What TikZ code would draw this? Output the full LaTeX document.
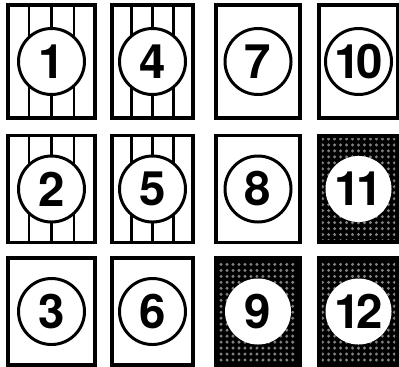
\documentclass[tikz,border=0pt]{standalone}
\usepackage{fontspec}
\setmainfont{TeX Gyre Heros}
\usetikzlibrary{calc, patterns.meta}

\begin{document}
\begin{tikzpicture}[
	box/.style={draw, line width=1.8pt, inner sep=0pt, fill=white},
	dark/.style={box, fill=black},
	ring/.style={circle, draw, line width=1.7pt, fill=white, minimum size=1.32cm, inner sep=0pt,
		font=\fontsize{27}{27}\selectfont\bfseries},
	hole/.style={ring, draw=none},
	stripe/.style={line width=1.5pt},
	dots/.style={pattern={Dots[distance=3.4pt, radius=0.95pt]}, pattern color=white!50!black}]
	\useasboundingbox (0,0) rectangle (7.98,7.32);

	% Hàng trên
	\node[box, minimum width=1.74cm, minimum height=2.26cm] (b1) at (1.03, 6.09) {};
	\node[box, minimum width=1.62cm, minimum height=2.26cm] (b4) at (3.05, 6.09) {};
	\node[box, minimum width=1.68cm, minimum height=2.26cm] (b7) at (5.16, 6.09) {};
	\node[box, minimum width=1.58cm, minimum height=2.26cm] (b10) at (7.17, 6.09) {};

	% Hàng giữa
	\node[box, minimum width=1.74cm, minimum height=2.14cm] (b2) at (1.03, 3.54) {};
	\node[box, minimum width=1.62cm, minimum height=2.14cm] (b5) at (3.05, 3.54) {};
	\node[box, minimum width=1.68cm, minimum height=2.14cm] (b8) at (5.16, 3.54) {};
	\node[dark, minimum width=1.58cm, minimum height=2.14cm] (b11) at (7.17, 3.54) {};

	% Hàng dưới
	\node[box, minimum width=1.74cm, minimum height=2.14cm] (b3) at (1.03, 1.09) {};
	\node[box, minimum width=1.62cm, minimum height=2.14cm] (b6) at (3.05, 1.09) {};
	\node[dark, minimum width=1.68cm, minimum height=2.14cm] (b9) at (5.16, 1.09) {};
	\node[dark, minimum width=1.58cm, minimum height=2.14cm] (b12) at (7.17, 1.09) {};

	% Chấm trong các ô tối
	\foreach \b in {b9, b11, b12}
		\fill[dots] ([shift={(2.5pt,2.5pt)}]\b.south west) rectangle ([shift={(-2.5pt,-2.5pt)}]\b.north east);

	% Các sọc dọc
	\foreach \b in {b1, b2, b4, b5}
		\foreach \f in {0.25, 0.5, 0.75}
			\draw[stripe] ($(\b.north west)!\f!(\b.north east)$) -- ($(\b.south west)!\f!(\b.south east)$);

	% Các vòng tròn có số
	\node[ring] (c1) at (b1) {1};
	\node[ring] (c2) at (b2) {2};
	\node[ring] (c3) at (b3) {3};
	\node[ring] (c4) at (b4) {4};
	\node[ring] (c5) at (b5) {5};
	\node[ring] (c6) at (b6) {6};
	\node[ring] (c7) at (b7) {7};
	\node[ring] (c8) at (b8) {8};
	\node[hole] (c9) at (b9) {9};
	\node[ring] (c10) at (b10) {1\kern-2.5pt0};
	\node[hole] (c11) at (b11) {1\kern-2.5pt1};
	\node[hole] (c12) at (b12) {1\kern-2.5pt2};
\end{tikzpicture}
\end{document}
